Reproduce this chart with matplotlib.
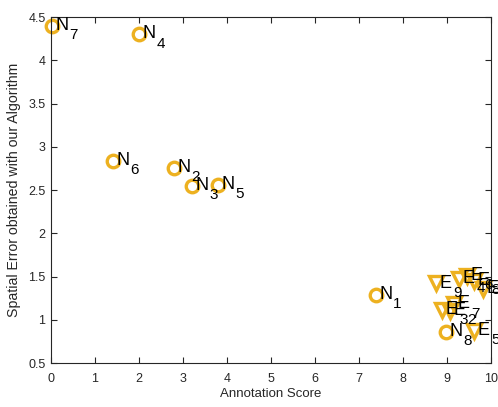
import matplotlib
matplotlib.use("Agg")
import matplotlib.pyplot as plt

plt.rcParams['font.family'] = ['Liberation Sans', 'DejaVu Sans']

# N points (circles)
n_labels = ['1', '2', '3', '4', '5', '6', '7', '8']
n_x = [7.38, 2.8, 3.2, 2.0, 3.8, 1.4, 0.02, 8.98]
n_y = [1.29, 2.76, 2.55, 4.30, 2.56, 2.84, 4.40, 0.86]

# E points (triangles)
e_labels = ['1', '2', '3', '4', '5', '6', '7', '8', '9']
e_x = [9.82, 9.07, 8.89, 9.27, 9.61, 9.45, 9.16, 9.62, 8.75]
e_y = [1.36, 1.10, 1.11, 1.47, 0.87, 1.51, 1.18, 1.45, 1.42]

color = '#EDB120'
fig = plt.figure(figsize=(4.98, 4.07), dpi=100)
ax = fig.add_axes([0.1024, 0.108, 0.884, 0.850])

ax.plot(n_x, n_y, 'o', ls='none', mfc='none', mec=color, ms=9, mew=2.4, clip_on=False)
ax.plot(e_x, e_y, 'v', ls='none', mfc='none', mec=color, ms=10, mew=2.4, clip_on=False)

def label(letter, sub, x, y):
    ax.annotate(letter, (x, y), xytext=(2.5, -2.9), textcoords='offset points',
                fontsize=13, ha='left', va='baseline', color='black', annotation_clip=False)
    ax.annotate(sub, (x, y), xytext=(12.5, -9.6), textcoords='offset points',
                fontsize=11, ha='left', va='baseline', color='black', annotation_clip=False)

for lab, x, y in zip(n_labels, n_x, n_y):
    label('N', lab, x, y)
for lab, x, y in zip(e_labels, e_x, e_y):
    label('E', lab, x, y)

ax.set_xlim(0, 10)
ax.set_ylim(0.5, 4.5)
ax.set_xticks(range(0, 11))
ax.set_yticks([0.5, 1, 1.5, 2, 2.5, 3, 3.5, 4, 4.5])
ax.set_yticklabels(['0.5', '1', '1.5', '2', '2.5', '3', '3.5', '4', '4.5'])
ax.tick_params(direction='in', top=True, right=True, labelsize=9, colors='#262626', length=4)
ax.tick_params(axis='x', pad=7)
ax.tick_params(axis='y', pad=4)
for s in ax.spines.values():
    s.set_color('#262626')
    s.set_linewidth(0.8)
ax.set_xlabel('Annotation Score', fontsize=9.5, color='#262626', labelpad=2)
ax.set_ylabel('Spatial Error obtained with our Algorithm', fontsize=10.2, color='#262626', labelpad=5)

fig.savefig('out.png', dpi=100)
